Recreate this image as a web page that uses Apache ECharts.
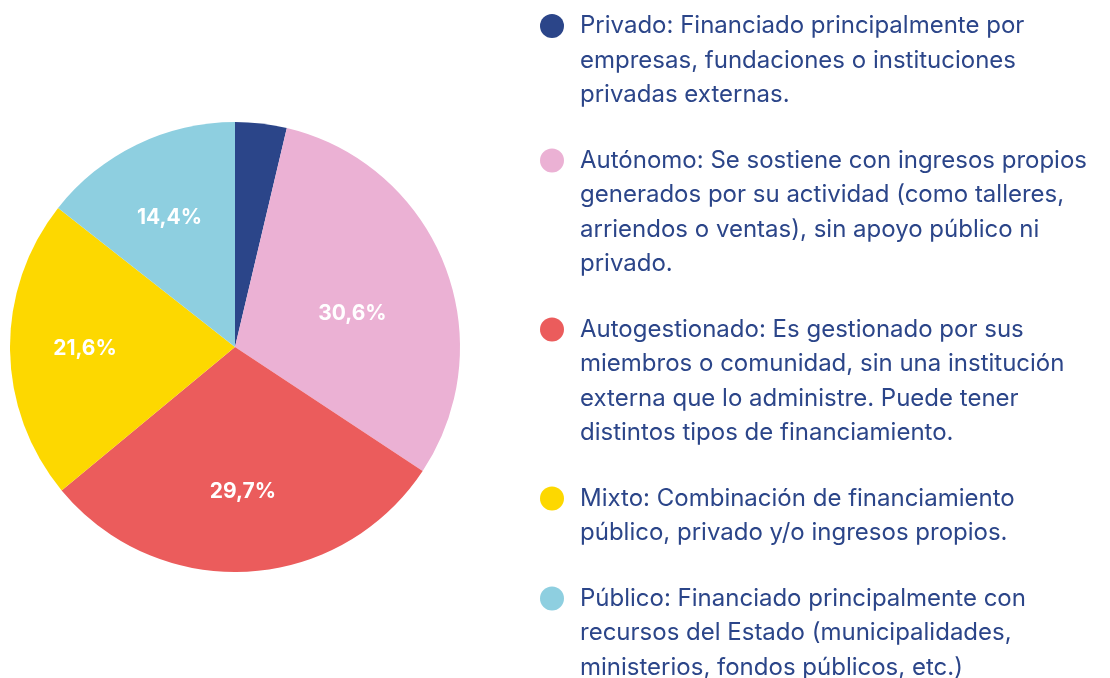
<!DOCTYPE html>
<html>
<head>
<meta charset="utf-8">
<script src="https://cdn.jsdelivr.net/npm/echarts@6/dist/echarts.min.js"></script>
<style>
  html, body { margin: 0; padding: 0; background: #fff; }
  #main { width: 1110px; height: 678px; }
</style>
</head>
<body>
<div id="main"></div>
<script>
// datos del gráfico
var categorias = ['Privado', 'Autónomo', 'Autogestionado', 'Mixto', 'Público'];
var valores = [3.7, 30.6, 29.7, 21.6, 14.4];
var colores = ['#2b4589', '#ebb1d4', '#eb5c5c', '#fdd800', '#8ecfe0'];
var descripciones = [
  ['Privado: Financiado principalmente por', 'empresas, fundaciones o instituciones', 'privadas externas.'],
  ['Autónomo: Se sostiene con ingresos propios', 'generados por su actividad (como talleres,', 'arriendos o ventas), sin apoyo público ni', 'privado.'],
  ['Autogestionado: Es gestionado por sus', 'miembros o comunidad, sin una institución', 'externa que lo administre. Puede tener', 'distintos tipos de financiamiento.'],
  ['Mixto: Combinación de financiamiento', 'público, privado y/o ingresos propios.'],
  ['Público: Financiado principalmente con', 'recursos del Estado (municipalidades,', 'ministerios, fondos públicos, etc.)']
];

var chart = echarts.init(document.getElementById('main'));

var datos = categorias.map(function (c, i) {
  return { name: c, value: valores[i], itemStyle: { color: colores[i] } };
});

// rich: un punto por categoría
var rich = {
  t: { fontFamily: 'Inter', fontSize: 24, color: '#2b4589', lineHeight: 34.5 },
  g: { width: 16, height: 24 },
  sp: { width: 40, height: 24 }
};
colores.forEach(function (c, i) {
  rich['dot' + i] = { width: 24, height: 24, borderRadius: 12, backgroundColor: c };
});

var option = {
  animation: false,
  legend: {
    orient: 'vertical',
    left: 534,
    top: 14,
    height: 800,
    padding: 0,
    itemGap: 41.5,
    itemWidth: 1,
    itemHeight: 1,
    icon: 'rect',
    itemStyle: { opacity: 0 },
    selectedMode: false,
    data: categorias,
    formatter: function (name) {
      var i = categorias.indexOf(name);
      return descripciones[i].map(function (l, k) {
        return (k === 0 ? '{dot' + i + '|}{g|}' : '{sp|}') + '{t|' + l + '}';
      }).join('\n');
    },
    textStyle: { rich: rich }
  },
  series: [
    {
      type: 'pie',
      center: [235, 347],
      radius: [0, 225],
      startAngle: 90,
      silent: true,
      label: { show: false },
      labelLine: { show: false },
      itemStyle: { borderWidth: 0 },
      data: datos
    },
    {
      // capa solo para las etiquetas
      type: 'pie',
      center: [235, 347],
      radius: [122, 172],
      startAngle: 90,
      silent: true,
      itemStyle: { color: 'rgba(0,0,0,0)', borderWidth: 0 },
      labelLine: { show: false },
      label: {
        show: true,
        position: 'inside',
        color: '#fff',
        fontFamily: 'Inter',
        fontWeight: 'bold',
        fontSize: 21,
        formatter: function (p) {
          return p.value < 5 ? '' : String(p.value).replace('.', ',') + '%';
        }
      },
      labelLayout: function (p) {
        if (p.dataIndex === 1) return { dx: -22, dy: 22 };
        if (p.dataIndex === 2) return { dy: -5 };
        if (p.dataIndex === 4) return { dy: 6 };
        return {};
      },
      data: categorias.map(function (c, i) { return { name: c, value: valores[i] }; })
    }
  ]
};
chart.setOption(option);
</script>
</body>
</html>
